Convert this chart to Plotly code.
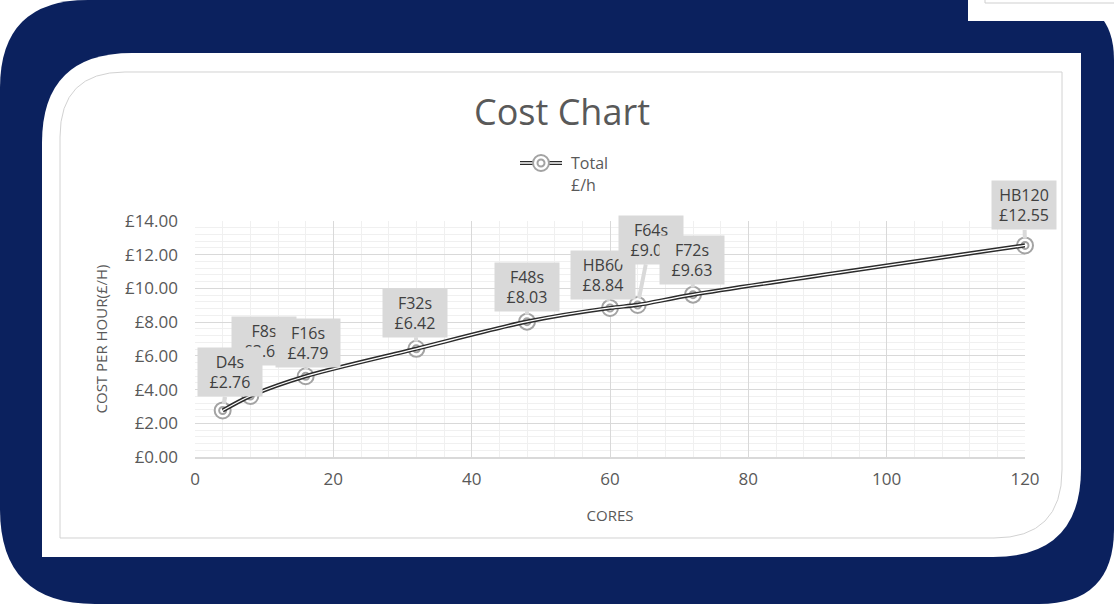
import plotly.graph_objects as go

# ---- data ----
cores = [4, 8, 16, 32, 48, 60, 64, 72, 120]
cost = [2.76, 3.62, 4.79, 6.42, 8.03, 8.84, 9.02, 9.63, 12.55]
vm_names = ["D4s", "F8s", "F16s", "F32s", "F48s", "HB60", "F64s", "F72s", "HB120"]
# callout offsets (pixels) of each label box relative to its point
label_dx = [7, 14, 2, -1, 0, -7, 13, -1, -1]
label_dy = [-38, -55, -33, -36, -35, -33, -65, -35, -40]
label_order = [1, 2, 0, 3, 4, 5, 6, 7, 8]

W, H = 1114, 606
L, R, T, B = 195, 1025, 221, 457
FONT = "Open Sans"
TXT = "#595959"


def px(x):
    return (x - L) / (R - L)


def py(y):
    return (B - y) / (B - T)


def rpath(x0, y0, x1, y1, tl=0, tr=0, br=0, bl=0):
    pts = []
    pts.append(("M", [(x0, y0 + tl)]))
    if tl:
        pts.append(("Q", [(x0, y0), (x0 + tl, y0)]))
    pts.append(("L", [(x1 - tr, y0)]))
    if tr:
        pts.append(("Q", [(x1, y0), (x1, y0 + tr)]))
    pts.append(("L", [(x1, y1 - br)]))
    if br:
        pts.append(("Q", [(x1, y1), (x1 - br, y1)]))
    pts.append(("L", [(x0 + bl, y1)]))
    if bl:
        pts.append(("Q", [(x0, y1), (x0, y1 - bl)]))
    s = ""
    for cmd, ps in pts:
        s += cmd + " ".join(f"{px(a):.5f},{py(b):.5f}" for a, b in ps) + " "
    return s + "Z"


fig = go.Figure()

# markers (double ring)
fig.add_trace(go.Scatter(x=cores, y=cost, mode="markers", hoverinfo="skip", cliponaxis=False,
                         marker=dict(symbol="circle", size=16, color="white",
                                     line=dict(color="#a3a3a3", width=2)),
                         showlegend=False))
fig.add_trace(go.Scatter(x=cores, y=cost, mode="markers", hoverinfo="skip", cliponaxis=False,
                         marker=dict(symbol="circle", size=7, color="white",
                                     line=dict(color="#a3a3a3", width=2)),
                         showlegend=False))
# double line
fig.add_trace(go.Scatter(x=cores, y=cost, mode="lines", hoverinfo="skip", cliponaxis=False,
                         line=dict(color="#2b2b2b", width=4.2, shape="spline", smoothing=0.8),
                         showlegend=False))
fig.add_trace(go.Scatter(x=cores, y=cost, mode="lines", name="Total £/h", cliponaxis=False,
                         line=dict(color="white", width=1.3, shape="spline", smoothing=0.8),
                         showlegend=False))

shapes = []
# navy frame
shapes.append(dict(type="path", xref="paper", yref="paper", layer="below",
                   path=rpath(0, 0, 1114, 604, tl=88, tr=60, br=75, bl=95),
                   fillcolor="#0b215e", line=dict(width=0)))
# top-right white box
shapes.append(dict(type="rect", xref="paper", yref="paper", layer="below",
                   x0=px(968), x1=px(1114), y0=py(21), y1=py(0),
                   fillcolor="white", line=dict(width=0)))
shapes.append(dict(type="path", xref="paper", yref="paper", layer="below",
                   path=f"M{px(985)},{py(0)} L{px(985)},{py(3)} L{px(1114)},{py(3)}",
                   line=dict(color="#cfcfcf", width=1)))
# white panel
shapes.append(dict(type="path", xref="paper", yref="paper", layer="below",
                   path=rpath(42, 53, 1081, 557, tl=90, br=88),
                   fillcolor="white", line=dict(width=0)))
# inner chart border
shapes.append(dict(type="path", xref="paper", yref="paper", layer="below",
                   path=rpath(60, 72, 1062, 538, tl=65, br=68),
                   fillcolor="white", line=dict(color="#d2d2d2", width=1)))

# legend sample
lx0, lx1, ly = 520, 562, 163
shapes.append(dict(type="line", xref="paper", yref="paper",
                   x0=px(lx0), x1=px(lx1), y0=py(ly), y1=py(ly),
                   line=dict(color="#2b2b2b", width=4.2)))
shapes.append(dict(type="line", xref="paper", yref="paper",
                   x0=px(lx0), x1=px(lx1), y0=py(ly), y1=py(ly),
                   line=dict(color="white", width=1.3)))
for r in (8, 3.5):
    shapes.append(dict(type="circle", xref="paper", yref="paper",
                       xsizemode="pixel", ysizemode="pixel",
                       xanchor=px(541), yanchor=py(ly),
                       x0=-r, x1=r, y0=-r, y1=r,
                       fillcolor="white", line=dict(color="#a3a3a3", width=2)))

annotations = []
annotations.append(dict(xref="paper", yref="paper", x=px(569), y=py(163),
                        xanchor="left", yanchor="middle", showarrow=False,
                        text="Total", font=dict(family=FONT, size=16, color=TXT)))
annotations.append(dict(xref="paper", yref="paper", x=px(569), y=py(185),
                        xanchor="left", yanchor="middle", showarrow=False,
                        text="£/h", font=dict(family=FONT, size=16, color=TXT)))

# data callouts
for i in label_order:
    annotations.append(dict(
        x=cores[i], y=cost[i], xref="x", yref="y",
        text=f"{vm_names[i]}<br>£{cost[i]:.2f}",
        showarrow=True, arrowhead=0, arrowwidth=4, arrowcolor="#d9d9d9",
        ax=label_dx[i], ay=label_dy[i], standoff=7,
        bgcolor="#d9d9d9", borderpad=3, width=58, height=42,
        font=dict(family=FONT, size=16, color="#404040")))

fig.update_layout(
    width=W, height=H,
    margin=dict(l=L, r=W - R, t=T, b=H - B, pad=0),
    paper_bgcolor="white", plot_bgcolor="rgba(0,0,0,0)",
    font=dict(family=FONT, color=TXT),
    title=dict(text="Cost Chart", x=562 / W, xanchor="center",
               y=1 - 112 / H, yanchor="middle",
               font=dict(family=FONT, size=36, color=TXT)),
    shapes=shapes, annotations=annotations,
    showlegend=False,
)
fig.update_xaxes(range=[0, 120], dtick=20, tick0=0,
                 showgrid=True, gridcolor="#d9d9d9", gridwidth=1,
                 minor=dict(dtick=4, showgrid=True, gridcolor="#f0f0f0", gridwidth=1),
                 zeroline=False, showline=True, linecolor="#d9d9d9", linewidth=1.5,
                 ticks="", ticklabelstandoff=6,
                 tickfont=dict(family=FONT, size=17, color=TXT),
                 title=dict(text="CORES", standoff=21,
                            font=dict(family=FONT, size=15, color=TXT)))
fig.update_yaxes(range=[0, 14], dtick=2, tick0=0,
                 tickprefix="£", tickformat=".2f",
                 showgrid=True, gridcolor="#d9d9d9", gridwidth=1,
                 minor=dict(dtick=0.4, showgrid=True, gridcolor="#f0f0f0", gridwidth=1),
                 zeroline=False, showline=False,
                 ticks="", ticklabelstandoff=16,
                 tickfont=dict(family=FONT, size=17, color=TXT),
                 title=dict(text="COST PER HOUR(£/H)", standoff=13,
                            font=dict(family=FONT, size=15, color=TXT)))

fig.write_html("out.html")
